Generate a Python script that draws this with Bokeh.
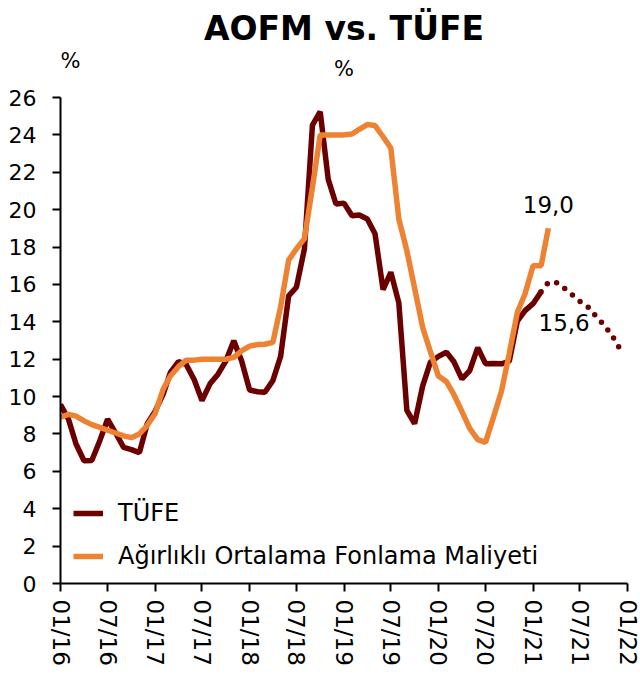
import pandas as pd
from bokeh.plotting import figure
from bokeh.models import Label, FixedTicker, DatetimeTickFormatter
from bokeh.embed import file_html
from bokeh.resources import INLINE

# ---- data ----
tufe_start = "2016-01"
tufe = [9.58, 8.78, 7.46, 6.57, 6.58, 7.64, 8.79, 8.05, 7.28, 7.16, 7.00, 8.53,
        9.22, 10.13, 11.29, 11.87, 11.72, 10.90, 9.79, 10.68, 11.20, 11.90, 12.98, 11.92,
        10.35, 10.26, 10.23, 10.85, 12.15, 15.39, 15.85, 17.90, 24.52, 25.24, 21.62, 20.30,
        20.35, 19.67, 19.71, 19.50, 18.71, 15.72, 16.65, 15.01, 9.26, 8.55, 10.56, 11.84,
        12.15, 12.37, 11.86, 10.94, 11.39, 12.62, 11.76, 11.77, 11.75, 11.89, 14.03, 14.60,
        14.97, 15.61]

aofm_start = "2016-01"
aofm = [8.9, 9.05, 8.95, 8.7, 8.5, 8.35, 8.2, 8.05, 7.9, 7.8, 8.0, 8.45,
        9.1, 10.4, 11.1, 11.6, 11.95, 11.95, 12.0, 12.0, 12.0, 12.0, 12.1, 12.45,
        12.7, 12.78, 12.8, 12.9, 14.8, 17.3, 17.9, 18.45, 21.2, 24.0, 24.0, 24.0,
        24.0, 24.05, 24.3, 24.55, 24.5, 23.9, 23.3, 19.5, 17.8, 15.8, 13.7, 12.4,
        11.1, 10.8, 10.1, 9.2, 8.3, 7.7, 7.55, 8.9, 10.3, 12.3, 14.5, 15.5,
        17.0, 17.0, 19.0]

forecast_start = "2021-02"
forecast = [15.61, 16.1, 16.1, 15.8, 15.45, 15.1, 14.8, 14.3, 13.85, 13.3, 12.6]

tick_labels = ["01/16", "07/16", "01/17", "07/17", "01/18", "07/18", "01/19",
               "07/19", "01/20", "07/20", "01/21", "07/21", "01/22"]
y_ticks = list(range(0, 27, 2))
y_axis_max = 26

label_aofm = "19,0"
label_tufe = "15,6"

# ---- build ----
tufe_x = pd.date_range(tufe_start, periods=len(tufe), freq="MS")
aofm_x = pd.date_range(aofm_start, periods=len(aofm), freq="MS")
fc_x = pd.date_range(forecast_start, periods=len(forecast), freq="MS")
tick_dates = [pd.Timestamp("20" + t[3:] + "-" + t[:2] + "-01") for t in tick_labels]
tick_ms = [d.value / 1e6 for d in tick_dates]

DARK = "#6B0000"
ORANGE = "#EE8233"
FONT = "DejaVu Sans"

W, H = 640, 675
LEFT, RIGHT, TOP, BOTTOM = 60, 13, 0, 92
frame_h = H - TOP - BOTTOM
px_per_unit = 486 / 26.0          # 26 units span 486 px in the reference
y_top = frame_h / px_per_unit      # range extends above the axis for the titles

p = figure(width=W, height=H, x_axis_type="datetime",
           x_range=(tick_dates[0], tick_dates[-1]), y_range=(0, y_top),
           output_backend="svg", toolbar_location=None,
           min_border_left=LEFT, min_border_right=RIGHT, min_border_top=TOP,
           min_border_bottom=BOTTOM)
p.title = None
p.xgrid.visible = False
p.ygrid.visible = False
p.outline_line_color = None
p.background_fill_color = "white"

p.line(tufe_x, tufe, color=DARK, line_width=5.5, legend_label="TÜFE")
p.line(aofm_x, aofm, color=ORANGE, line_width=5.5,
       legend_label="Ağırlıklı Ortalama Fonlama Maliyeti")
p.line(fc_x, forecast, color=DARK, line_width=5.5, line_dash="0 10", line_cap="round")

for ax in (p.xaxis[0], p.yaxis[0]):
    ax.axis_line_color = "black"
    ax.axis_line_width = 2
    ax.major_tick_line_color = "black"
    ax.major_tick_line_width = 2
    ax.major_tick_out = 8
    ax.major_tick_in = 0
    ax.minor_tick_out = 0
    ax.minor_tick_in = 0
    ax.major_label_text_font = FONT
    ax.major_label_text_color = "black"

p.yaxis.ticker = FixedTicker(ticks=y_ticks)
p.yaxis.bounds = (0, y_axis_max)
p.yaxis.major_label_text_font_size = "22px"
p.yaxis.major_label_standoff = 16

p.xaxis.ticker = FixedTicker(ticks=tick_ms)
p.xaxis.formatter = DatetimeTickFormatter(days="%m/%y", months="%m/%y", years="%m/%y")
p.xaxis.major_label_orientation = "vertical"
p.xaxis.major_label_text_font_size = "23px"
p.xaxis.major_label_standoff = 8

lg = p.legend[0]
lg.location = (13, 12)
lg.padding = 0
lg.margin = 0
lg.border_line_color = None
lg.background_fill_alpha = 0
lg.label_text_font = FONT
lg.label_text_font_size = "24px"
lg.label_text_color = "black"
lg.glyph_width = 30
lg.glyph_height = 30
lg.label_height = 30
lg.label_standoff = 15
lg.spacing = 13

frame_w = W - LEFT - RIGHT
# texts (screen units relative to the plot frame's bottom-left)
p.add_layout(Label(x=frame_w / 2, y=frame_h - 28, x_units="screen", y_units="screen",
                   text="AOFM vs. TÜFE", text_font=FONT, text_font_style="bold",
                   text_font_size="33px", text_align="center",
                   text_baseline="middle", text_color="black"))
p.add_layout(Label(x=0, y=frame_h - 60, x_units="screen", y_units="screen",
                   text="%", text_font=FONT, text_font_size="21px",
                   text_align="left", text_baseline="middle", text_color="black"))
p.add_layout(Label(x=frame_w / 2, y=frame_h - 68, x_units="screen", y_units="screen",
                   text="%", text_font=FONT, text_font_size="21px",
                   text_align="center", text_baseline="middle", text_color="black"))
p.add_layout(Label(x=aofm_x[-1], y=aofm[-1], y_offset=24,
                   text=label_aofm, text_font=FONT, text_font_size="23px",
                   text_align="center", text_baseline="middle", text_color="black"))
p.add_layout(Label(x=tufe_x[-1], y=tufe[-1], x_offset=23, y_offset=-31,
                   text=label_tufe, text_font=FONT, text_font_size="23px",
                   text_align="center", text_baseline="middle", text_color="black"))

open("out.html", "w").write(file_html(p, INLINE))
